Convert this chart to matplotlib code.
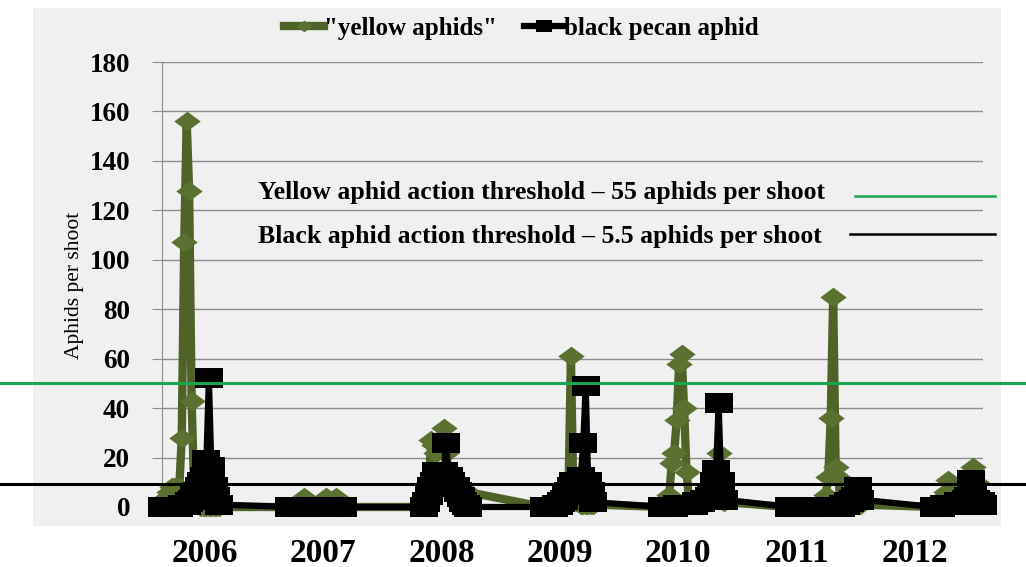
import numpy as np
import pandas as pd
import matplotlib
matplotlib.use("Agg")
import matplotlib.pyplot as plt
import matplotlib.transforms as mtransforms
from matplotlib.lines import Line2D
from matplotlib.patches import Rectangle

# first sampling date of each season, then weekly samples
years = ["2006", "2007", "2008", "2009", "2010", "2011", "2012"]
season_start = ["2006-05-01", "2007-04-26", "2008-05-13", "2009-04-18",
                "2010-03-19", "2011-03-14", "2012-04-28"]

# "yellow aphids" per shoot, weekly
yellow_2006 = [0, 2, 4, 6, 8, 8, 6, 8, 28, 107, 156, 128, 43, 8, 2, 1, 0, 0, 0, 0, 0, 0, 0, 0]
yellow_2007 = [0, 0, 0, 0, 1, 2, 4, 2, 1, 0, 0, 0, 0, 1, 2, 4, 2, 1, 2, 4, 2, 1, 0]
yellow_2008 = [0, 2, 10, 27, 25, 22, 24, 28, 32, 22, 14, 11, 9, 8, 8, 7, 7, 6, 6]
yellow_2009 = [0, 0, 0, 0, 0, 0, 0, 0, 1, 2, 5, 61, 4, 2, 2, 1, 1, 1, 1, 1, 1]
yellow_2010 = [0, 0, 1, 5, 18, 22, 35, 58, 62, 40, 14, 3, 2, 1, 1, 1, 1, 1, 2, 3, 5, 8, 10, 22, 8, 2]
yellow_2011 = [0, 0, 0, 0, 0, 0, 0, 0, 0, 0, 0, 0, 1, 1, 2, 5, 12, 36, 85, 16, 12, 3, 1, 1, 1, 1, 1, 1, 1, 1]
yellow_2012 = [0, 0, 1, 2, 4, 6, 11, 6, 4, 3, 3, 4, 5, 7, 9, 12, 16, 10, 4, 2, 1]

# black pecan aphid per shoot, weekly
black_2006 = [0, 0, 0, 0, 0, 0, 0, 0, 1, 1, 1, 2, 3, 5, 6, 8, 10, 12, 19, 52, 16, 8, 4, 1]
black_2007 = [0, 0, 0, 0, 0, 0, 0, 0, 0, 0, 0, 0, 0, 0, 0, 0, 0, 0, 0, 0, 0, 0, 0]
black_2008 = [0, 2, 5, 8, 10, 14, 12, 10, 14, 26, 12, 10, 8, 8, 6, 4, 2, 1, 0]
black_2009 = [0, 0, 0, 0, 0, 1, 1, 2, 3, 5, 6, 8, 10, 10, 10, 12, 26, 49, 10, 6, 2]
black_2010 = [0, 0, 0, 0, 0, 0, 1, 1, 1, 1, 1, 1, 1, 1, 2, 2, 2, 3, 3, 4, 5, 10, 15, 42, 10, 3]
black_2011 = [0, 0, 0, 0, 0, 0, 0, 0, 0, 0, 0, 0, 0, 0, 0, 0, 0, 0, 0, 0, 0, 0, 1, 1, 2, 2, 3, 4, 8, 3]
black_2012 = [0, 0, 0, 0, 1, 1, 1, 1, 1, 1, 2, 2, 2, 3, 4, 11, 5, 3, 2, 2, 1]

yellow_all = [yellow_2006, yellow_2007, yellow_2008, yellow_2009, yellow_2010, yellow_2011, yellow_2012]
black_all = [black_2006, black_2007, black_2008, black_2009, black_2010, black_2011, black_2012]

yellow_threshold_label = "Yellow aphid action threshold \u2013 55 aphids per shoot"
black_threshold_label = "Black aphid action threshold \u2013 5.5 aphids per shoot"
# heights where the two threshold rules are drawn on the chart
yellow_rule_y = 50
black_rule_y = 9.3

dates = []
yellow = []
black = []
for start, yv, bv in zip(season_start, yellow_all, black_all):
    d = pd.date_range(start, periods=len(yv), freq="7D")
    dates.extend(d)
    yellow.extend(yv)
    black.extend(bv)
dates = pd.to_datetime(dates)

serif = "Liberation Serif"
olive = "#4f6228"
olive_mk = "#5a7131"
grn = "#1aa64f"
panel = "#f0f0f0"

diamond = [(0, 1), (1.35, 0), (0, -1), (-1.35, 0), (0, 1)]
rect = [(-1.3, -1), (1.3, -1), (1.3, 1), (-1.3, 1), (-1.3, -1)]

fig = plt.figure(figsize=(10.26, 5.67), dpi=100)
fig.patches.append(Rectangle((0.032, 0.072), 0.944, 0.914, transform=fig.transFigure,
                             facecolor=panel, edgecolor="none", zorder=-10))

ax = fig.add_axes([162 / 1026, 60 / 567, 821 / 1026, 445 / 567])
ax.set_facecolor(panel)
ax.patch.set_alpha(0)

ax.plot(dates, yellow, color=olive, lw=6, marker=diamond, ms=19,
        markerfacecolor=olive_mk, markeredgewidth=0, clip_on=False, zorder=3,
        label='"yellow aphids"')
ax.plot(dates, black, color="black", lw=4.5, marker=rect, ms=19.5,
        markeredgewidth=0, clip_on=False, zorder=4, label="black pecan aphid")

ax.set_xlim(dates[0], dates[-1])
ax.set_ylim(0, 180)
ax.set_yticks(np.arange(0, 181, 20))
ax.set_xticks([])
ax.grid(axis="y", color="#8c8c8c", lw=1)
ax.set_axisbelow(True)
for s in ["top", "right", "bottom"]:
    ax.spines[s].set_visible(False)
ax.spines["left"].set_color("#8c8c8c")
ax.tick_params(axis="y", length=7, color="#8c8c8c", pad=16)
for lab in ax.get_yticklabels():
    lab.set_fontfamily(serif)
    lab.set_fontweight("bold")
    lab.set_fontsize(19.5)

# threshold rules across the whole figure
tr = mtransforms.blended_transform_factory(fig.transFigure, ax.transData)
ax.plot([0, 1], [yellow_rule_y, yellow_rule_y], color=grn, lw=2.2, transform=tr, clip_on=False, zorder=5)
ax.plot([0, 1], [black_rule_y, black_rule_y], color="black", lw=2.2, transform=tr, clip_on=False, zorder=5)

# threshold key
fig.text(258 / 1026, 1 - 193 / 567, yellow_threshold_label, family=serif, weight="bold",
         fontsize=18.5, va="center", ha="left")
fig.text(258 / 1026, 1 - 236 / 567, black_threshold_label, family=serif, weight="bold",
         fontsize=18.5, va="center", ha="left")
fig.add_artist(Line2D([855 / 1026, 995 / 1026], [1 - 196 / 567] * 2, color=grn, lw=1.8))
fig.add_artist(Line2D([850 / 1026, 995 / 1026], [1 - 234 / 567] * 2, color="black", lw=1.8))

# year labels under each season
for i, yr in enumerate(years):
    fig.text((205 + 118.3 * i) / 1026, 1 - 553 / 567, yr, family=serif, weight="bold",
             fontsize=24, ha="center", va="center")

fig.text(75 / 1026, 1 - 285 / 567, "Aphids per shoot", family=serif, fontsize=15.5,
         rotation=90, ha="center", va="center")

leg = ax.legend(loc="center", bbox_to_anchor=(0.508, 1 - 28 / 567), bbox_transform=fig.transFigure,
                ncol=2, frameon=False, handlelength=1.6, handletextpad=0.0, columnspacing=1.1,
                markerscale=0.6, prop={"family": serif, "weight": "bold", "size": 18})

fig.savefig("out.png", dpi=100)
